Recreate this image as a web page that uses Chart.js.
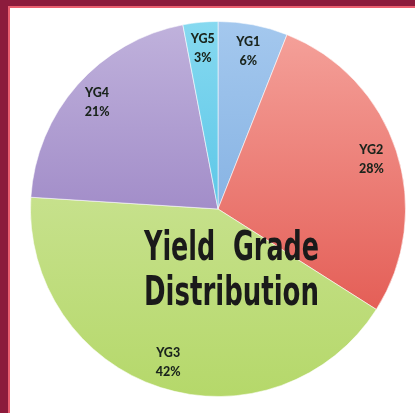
<!DOCTYPE html>
<html>
<head>
<meta charset="utf-8">
<script src="https://cdn.jsdelivr.net/npm/chart.js@4.4.1/dist/chart.umd.min.js"></script>
<style>
  html, body { margin: 0; padding: 0; background: #fff; }
  #frame {
    position: absolute; left: 0; top: 0; width: 415px; height: 413px;
    box-sizing: border-box;
    border-left: 8px solid #8c1b3c;
    border-top: 6px solid #8c1b3c;
  }
  #inner {
    position: absolute; left: 0; top: 0; right: 0; bottom: 0;
    border-left: 2px solid #ea5f70;
    border-top: 2px solid #ea5f70;
    background: #fff;
  }
  #wrap { position: absolute; left: 0; top: 0; width: 415px; height: 413px; }
</style>
</head>
<body>
<div id="frame"><div id="inner"></div></div>
<div id="wrap"><canvas id="pieChart"></canvas></div>
<script>
const grades = ["YG1", "YG2", "YG3", "YG4", "YG5"];
const shares = [6, 28, 42, 21, 3];
const titleLines = ["Yield Grade", "Distribution"];

// top / bottom colour of each slice (light to dark, like the office gradient)
const topColors = ["#a4c8ee", "#f5a39c", "#d6e9aa", "#c0b2dc", "#86d9f0"];
const bottomColors = ["#6b9fd9", "#df4a42", "#b5d86a", "#8569b6", "#33b5df"];

function sliceFill(context) {
  const chart = context.chart;
  const area = chart.chartArea;
  if (!area) return topColors[context.dataIndex];
  const g = chart.ctx.createLinearGradient(0, area.top, 0, area.bottom);
  g.addColorStop(0, topColors[context.dataIndex]);
  g.addColorStop(1, bottomColors[context.dataIndex]);
  return g;
}

const sliceLabels = {
  id: "sliceLabels",
  afterDatasetsDraw(chart) {
    const ctx = chart.ctx;
    const meta = chart.getDatasetMeta(0);
    ctx.save();
    ctx.font = "900 12.5px Lato, 'DejaVu Sans'";
    ctx.fillStyle = "#1a241c";
    ctx.textAlign = "center";
    ctx.textBaseline = "middle";
    meta.data.forEach((arc, i) => {
      const p = arc.getProps(["x", "y", "startAngle", "endAngle", "outerRadius"], true);
      const mid = (p.startAngle + p.endAngle) / 2;
      const r = p.outerRadius * 0.86;
      const x = p.x + Math.cos(mid) * r;
      const y = p.y + Math.sin(mid) * r;
      ctx.fillText(grades[i], x, y - 9);
      ctx.fillText(shares[i] + "%", x, y + 10);
    });
    ctx.restore();
  }
};

const bigTitle = {
  id: "bigTitle",
  afterDraw(chart) {
    const ctx = chart.ctx;
    ctx.save();
    ctx.font = "bold 41px 'Liberation Sans Narrow', 'DejaVu Sans Condensed', sans-serif";
    ctx.fillStyle = "#1a1a1a";
    ctx.textAlign = "left";
    ctx.textBaseline = "alphabetic";
    const baselines = [260, 305];
    titleLines.forEach((line, i) => {
      const text = line.replace(" ", "  ");
      const w = ctx.measureText(text).width;
      const sx = 175 / w;
      ctx.save();
      ctx.translate(144, baselines[i]);
      ctx.scale(sx, 1);
      ctx.fillText(text, 0, 0);
      ctx.restore();
    });
    ctx.restore();
  }
};

const pieCtx = document.getElementById("pieChart").getContext("2d");

const pieChart = new Chart(pieCtx, {
  type: "pie",
  data: {
    labels: grades,
    datasets: [{
      data: shares,
      backgroundColor: sliceFill,
      borderColor: "rgba(255,255,255,0.55)",
      borderWidth: 1
    }]
  },
  options: {
    responsive: true,
    maintainAspectRatio: false,
    animation: false,
    layout: { padding: { left: 30, right: 9, top: 21, bottom: 16 } },
    plugins: {
      legend: { display: false },
      tooltip: { enabled: false }
    }
  },
  plugins: [sliceLabels, bigTitle]
});
</script>
</body>
</html>
